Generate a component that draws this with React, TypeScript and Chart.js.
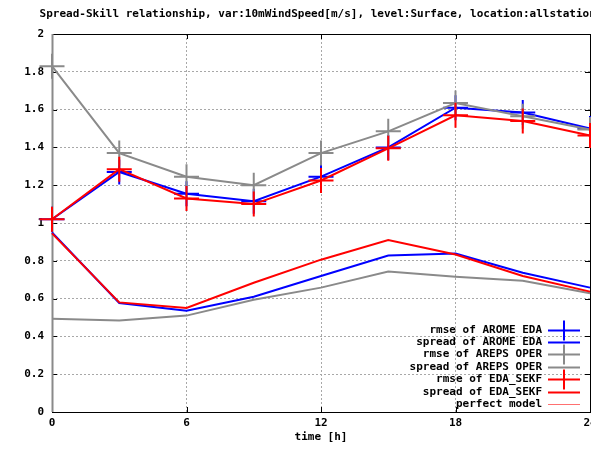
import React, { useEffect, useRef } from 'react';
import { Chart, registerables } from 'chart.js';

Chart.register(...registerables);

const titleText = 'Spread-Skill relationship, var:10mWindSpeed[m/s], level:Surface, location:allstations';
const xTitle = 'time [h]';
const hours = [0, 3, 6, 9, 12, 15, 18, 21, 24];
const rmseAromeEda = [1.02, 1.27, 1.155, 1.115, 1.245, 1.4, 1.61, 1.585, 1.5];
const spreadAromeEda = [0.95, 0.577, 0.536, 0.61, 0.72, 0.828, 0.838, 0.737, 0.658];
const rmseArepsOper = [1.83, 1.37, 1.245, 1.2, 1.37, 1.485, 1.635, 1.565, 1.495];
const spreadArepsOper = [0.493, 0.484, 0.51, 0.594, 0.658, 0.743, 0.716, 0.695, 0.628];
const rmseEdaSekf = [1.02, 1.285, 1.13, 1.1, 1.225, 1.395, 1.57, 1.54, 1.463];
const spreadEdaSekf = [0.945, 0.58, 0.55, 0.684, 0.806, 0.91, 0.833, 0.72, 0.637];
const perfectModel: number[] = [];
const xMin = 0;
const xMax = 24;
const xStep = 6;
const yMin = 0;
const yMax = 2;
const yStep = 0.2;

const FONT = { family: "'DejaVu Sans Mono', monospace", size: 11, weight: 'bold' as const };
const BLUE = '#0000ff';
const GRAY = '#8a8a8a';
const RED = '#ff0000';
const PINK = '#ff7070';

const toPts = (ys: number[]) => ys.map((y, i) => ({ x: hours[i], y }));
const fmt = (v: number) => String(Math.round(v * 10) / 10);

const framePlugin = {
  id: 'frame',
  beforeDatasetsDraw(chart: any) {
    const { ctx, chartArea: a, scales } = chart;
    ctx.save();
    ctx.strokeStyle = '#000';
    ctx.lineWidth = 1;
    ctx.strokeRect(Math.round(a.left) + 0.5, Math.round(a.top) + 0.5, Math.round(a.right - a.left), Math.round(a.bottom - a.top));
    ctx.beginPath();
    const tl = 5;
    scales.x.ticks.forEach((t: any) => {
      const px = Math.round(scales.x.getPixelForValue(t.value)) + 0.5;
      ctx.moveTo(px, a.bottom); ctx.lineTo(px, a.bottom - tl);
      ctx.moveTo(px, a.top); ctx.lineTo(px, a.top + tl);
    });
    scales.y.ticks.forEach((t: any) => {
      const py = Math.round(scales.y.getPixelForValue(t.value)) + 0.5;
      ctx.moveTo(a.left, py); ctx.lineTo(a.left + tl, py);
      ctx.moveTo(a.right, py); ctx.lineTo(a.right - tl, py);
    });
    ctx.stroke();
    ctx.strokeStyle = GRAY;
    ctx.lineWidth = 2;
    ctx.beginPath();
    const x0 = scales.x.getPixelForValue(0) + 0.5;
    ctx.moveTo(x0, a.top);
    ctx.lineTo(x0, a.bottom);
    ctx.stroke();
    ctx.restore();
  },
};

const titlePlugin = {
  id: 'gtitle',
  afterDraw(chart: any) {
    const { ctx } = chart;
    ctx.save();
    ctx.font = `bold 11px ${FONT.family}`;
    ctx.fillStyle = '#000';
    ctx.textAlign = 'center';
    ctx.textBaseline = 'middle';
    ctx.fillText(titleText, chart.width / 2 + 1, 14);
    ctx.restore();
  },
};

const legendPlugin = {
  id: 'glegend',
  afterDraw(chart: any) {
    const { ctx, chartArea: a } = chart;
    const ds = chart.data.datasets;
    ctx.save();
    ctx.font = `bold 11px ${FONT.family}`;
    ctx.textAlign = 'right';
    ctx.textBaseline = 'middle';
    const rowH = 12.4;
    const n = ds.length;
    const textRight = a.right - 48;
    const s0 = a.right - 42;
    const s1 = a.right - 10;
    const baseY = a.bottom - 8 - (n - 1) * rowH;
    ds.forEach((d: any, i: number) => {
      const y = Math.round(baseY + i * rowH) + 0.5;
      ctx.fillStyle = '#000';
      ctx.fillText(d.label, textRight, y);
      ctx.strokeStyle = d.borderColor;
      ctx.lineWidth = d.borderWidth;
      ctx.beginPath();
      ctx.moveTo(s0, y);
      ctx.lineTo(s1, y);
      if (d.pointRadius > 0) {
        const cx = Math.round((s0 + s1) / 2);
        ctx.moveTo(cx, y - 10);
        ctx.lineTo(cx, y + 10);
      }
      ctx.stroke();
    });
    ctx.restore();
  },
};

function makeSet(label: string, ys: number[], color: string, withPoints: boolean, order: number, width = 2) {
  return {
    label,
    data: toPts(ys),
    borderColor: color,
    backgroundColor: color,
    borderWidth: width,
    pointStyle: 'cross',
    pointRadius: withPoints ? 12.5 : 0,
    pointBorderWidth: 2,
    pointBorderColor: color,
    pointHoverRadius: withPoints ? 12.5 : 0,
    tension: 0,
    fill: false,
    clip: false,
    order,
  };
}

export default function App() {
  const ref = useRef<HTMLCanvasElement>(null);
  useEffect(() => {
    if (!ref.current) return;
    const chart = new Chart(ref.current, {
      type: 'line',
      data: {
        datasets: [
          makeSet('rmse of AROME EDA', rmseAromeEda, BLUE, true, 5),
          makeSet('spread of AROME EDA', spreadAromeEda, BLUE, false, 4),
          makeSet('rmse of AREPS OPER', rmseArepsOper, GRAY, true, 3),
          makeSet('spread of AREPS OPER', spreadArepsOper, GRAY, false, 2),
          makeSet('rmse of EDA_SEKF', rmseEdaSekf, RED, true, 1),
          makeSet('spread of EDA_SEKF', spreadEdaSekf, RED, false, 0),
          makeSet('perfect model', perfectModel, PINK, false, 0, 1),
        ] as any,
      },
      options: {
        animation: false,
        responsive: false,
        devicePixelRatio: 1,
        events: [],
        layout: { padding: { left: 0, right: 50, top: 34, bottom: 0 } },
        plugins: {
          legend: { display: false },
          tooltip: { enabled: false },
          title: { display: false },
        },
        scales: {
          x: {
            type: 'linear',
            min: xMin,
            max: xMax,
            ticks: { stepSize: xStep, color: '#000', font: FONT, padding: 5, maxRotation: 0, callback: (v: any) => fmt(Number(v)) },
            grid: { color: '#a8a8a8', lineWidth: 1, drawTicks: false },
            border: { display: false, dash: [2, 2] },
            title: { display: true, text: xTitle, color: '#000', font: FONT, padding: { top: 0, bottom: 36 } },
            afterFit: (s: any) => { s.height = 68; },
          },
          y: {
            type: 'linear',
            min: yMin,
            max: yMax,
            ticks: { stepSize: yStep, color: '#000', font: FONT, padding: 8, callback: (v: any) => fmt(Number(v)) },
            grid: { color: '#a8a8a8', lineWidth: 1, drawTicks: false },
            border: { display: false, dash: [2, 2] },
            afterFit: (s: any) => { s.width = 52; },
          },
        },
      } as any,
      plugins: [framePlugin, titlePlugin, legendPlugin],
    });
    return () => chart.destroy();
  }, []);
  return (
    <div style={{ position: 'absolute', left: 0, top: 0, width: 591, height: 449, overflow: 'hidden', background: '#fff' }}>
      <canvas ref={ref} width={640} height={480} style={{ display: 'block', width: 640, height: 480 }} />
    </div>
  );
}
